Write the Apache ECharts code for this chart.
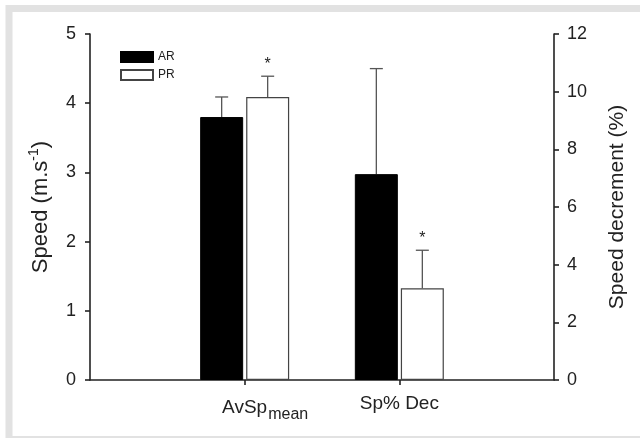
<!DOCTYPE html>
<html><head><meta charset="utf-8">
<script src="https://cdn.jsdelivr.net/npm/echarts@6/dist/echarts.min.js"></script>
<style>html,body{margin:0;padding:0;background:#fff}#c{width:640px;height:438px}</style>
</head><body><div id="c"></div>
<script>
const categories = ['', 'AvSp', 'Sp% Dec', ''];
const groups = ['AR', 'PR'];
// AvSp mean (m/s), left axis
const avspMean = [3.80, 4.09];
const avspSD = [0.29, 0.30];
// Sp% Dec (%), right axis
const decMean = [7.14, 3.18];
const decSD = [3.66, 1.32];
const sigPR = [true, true];
const leftTicks = [0, 1, 2, 3, 4, 5];
const rightTicks = [0, 2, 4, 6, 8, 10, 12];

const chart = echarts.init(document.getElementById('c'));
const font = 'Liberation Sans, Arial, sans-serif';
const barW = 43, off = 23;

function barData(catIdx, val) {
  return categories.map((c, i) => i === catIdx ? val : null);
}
function errSeries(name, xi, yi, catIdx, means, sds) {
  return {
    type: 'custom', name: name, xAxisIndex: xi, yAxisIndex: yi, z: 1,
    data: means.map((m, k) => [catIdx, m, m + sds[k], k]),
    renderItem: function (params, api) {
      const k = api.value(3);
      const dx = k === 0 ? -off : off;
      const p0 = api.coord([api.value(0), api.value(1)]);
      const p1 = api.coord([api.value(0), api.value(2)]);
      const x = p0[0] + dx;
      const children = [
        {type: 'line', shape: {x1: x, y1: p0[1], x2: x, y2: p1[1]}, style: {stroke: '#555', lineWidth: 1.3}},
        {type: 'line', shape: {x1: x - 6.5, y1: p1[1], x2: x + 6.5, y2: p1[1]}, style: {stroke: '#555', lineWidth: 1.3}}
      ];
      if (k === 1 && sigPR[catIdx - 1]) {
        children.push({type: 'text', style: {text: '*', x: x, y: p1[1] - 12, textAlign: 'center', textVerticalAlign: 'middle', fontSize: 16, fontFamily: font, fill: '#222'}});
      }
      return {type: 'group', children: children};
    },
    silent: true
  };
}

const option = {
  animation: false,
  backgroundColor: '#fff',
  textStyle: {fontFamily: font},
  graphic: [{type: 'rect', shape: {x: 9, y: 8.5, width: 680, height: 431}, style: {fill: 'none', stroke: '#e2e2e2', lineWidth: 7}, z: -10}],
  legend: {
    data: groups, orient: 'vertical', left: 120, top: 51, itemWidth: 32, itemHeight: 10, itemGap: 6, icon: 'rect',
    textStyle: {fontSize: 12, color: '#222', fontFamily: font}, padding: 0
  },
  grid: {left: 90, right: 86, top: 34, bottom: 58},
  xAxis: [{
    type: 'category', data: categories, boundaryGap: false,
    axisLine: {lineStyle: {color: '#222', width: 1.6}},
    axisTick: {length: 5, interval: function (i) { return i === 1 || i === 2; }, lineStyle: {color: '#222', width: 1.6}},
    axisLabel: {
      interval: 0, margin: 13, color: '#222',
      formatter: function (v) { return v === 'AvSp' ? '{a|AvSp}{b|mean}' : (v ? '{c|' + v + '}' : ''); },
      rich: {
        a: {fontSize: 19, fontFamily: font, color: '#222', lineHeight: 22, padding: [0, 0, 0, 41]},
        b: {fontSize: 16, fontFamily: font, color: '#222', padding: [14, 0, 0, 1]},
        c: {fontSize: 19, fontFamily: font, color: '#222', lineHeight: 22}
      }
    },
    splitLine: {show: false}
  }, {
    type: 'category', data: categories, boundaryGap: false, show: false
  }],
  yAxis: [{
    type: 'value', min: 0, max: 5, interval: 1, position: 'left',
    name: '{n|Speed (m.s}{s|-1}{n|)}', nameLocation: 'middle', nameGap: 36, nameRotate: 90,
    nameTextStyle: {rich: {n: {fontSize: 22, fontFamily: font, color: '#222'}, s: {fontSize: 14, fontFamily: font, color: '#222', padding: [0, 0, 13, 0]}}},
    axisLine: {show: true, lineStyle: {color: '#222', width: 1.6}},
    axisTick: {show: true, length: 5, lineStyle: {color: '#222', width: 1.6}},
    axisLabel: {fontSize: 18, color: '#222', margin: 14, formatter: v => leftTicks.includes(v) ? String(v) : ''},
    splitLine: {show: false}
  }, {
    type: 'value', min: 0, max: 12, interval: 2, position: 'right',
    name: 'Speed decrement (%)', nameLocation: 'middle', nameGap: 53, nameRotate: 90,
    nameTextStyle: {fontSize: 21, color: '#222', fontFamily: font},
    axisLine: {show: true, lineStyle: {color: '#222', width: 1.6}},
    axisTick: {show: true, length: 5, lineStyle: {color: '#222', width: 1.6}},
    axisLabel: {fontSize: 18, color: '#222', margin: 13, formatter: v => rightTicks.includes(v) ? String(v) : ''},
    splitLine: {show: false}
  }],
  series: [
    {name: 'AR', type: 'bar', xAxisIndex: 0, yAxisIndex: 0, barWidth: barW, barGap: '7%', data: barData(1, avspMean[0]), itemStyle: {color: '#000', borderColor: '#000', borderWidth: 1}, z: 2},
    {name: 'PR', type: 'bar', xAxisIndex: 0, yAxisIndex: 0, barWidth: barW, barGap: '7%', data: barData(1, avspMean[1]), itemStyle: {color: '#fff', borderColor: '#444', borderWidth: 1.2}, z: 2},
    {name: 'AR', type: 'bar', xAxisIndex: 1, yAxisIndex: 1, barWidth: barW, barGap: '7%', data: barData(2, decMean[0]), itemStyle: {color: '#000', borderColor: '#000', borderWidth: 1}, z: 2},
    {name: 'PR', type: 'bar', xAxisIndex: 1, yAxisIndex: 1, barWidth: barW, barGap: '7%', data: barData(2, decMean[1]), itemStyle: {color: '#fff', borderColor: '#444', borderWidth: 1.2}, z: 2},
    errSeries('errL', 0, 0, 1, avspMean, avspSD),
    errSeries('errR', 1, 1, 2, decMean, decSD)
  ]
};
chart.setOption(option);
</script></body></html>
